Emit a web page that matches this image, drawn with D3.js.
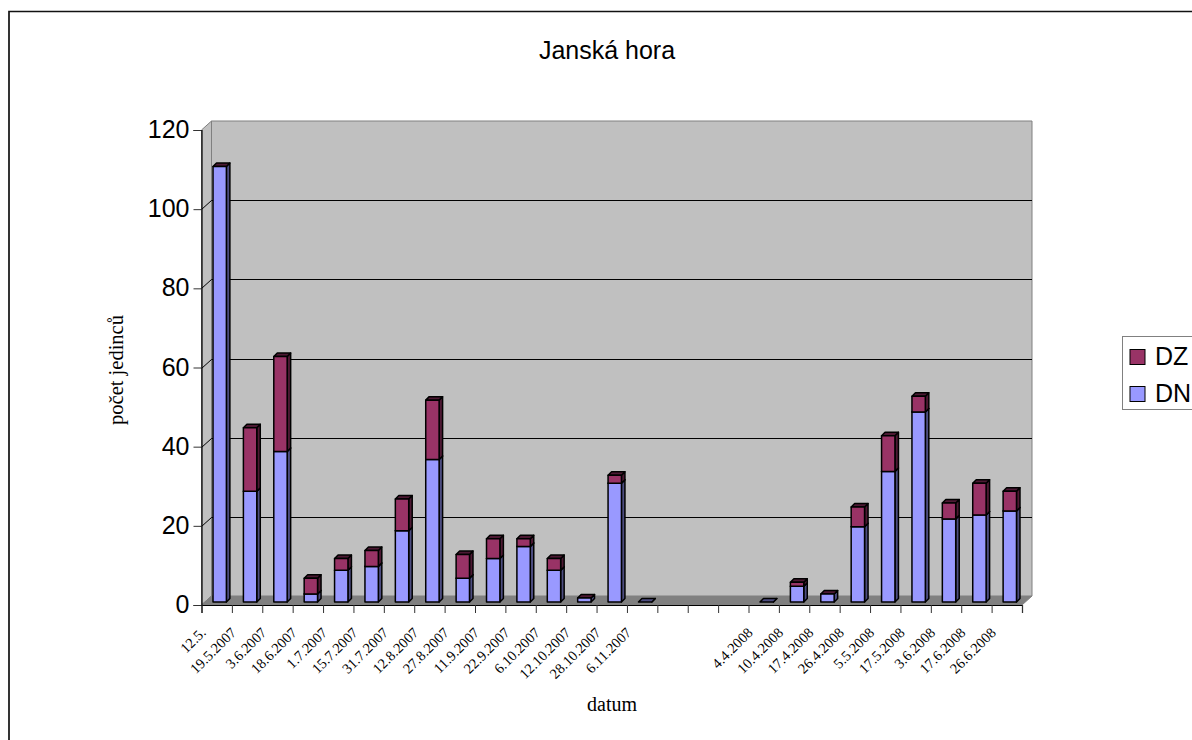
<!DOCTYPE html>
<html>
<head>
<meta charset="utf-8">
<title>Janská hora</title>
<script src="https://cdn.jsdelivr.net/npm/d3@7/dist/d3.min.js"></script>
<style>
  html, body { margin: 0; padding: 0; background: #fff; }
  svg { display: block; }
  text { fill: #000; }
</style>
</head>
<body>
<svg id="chart" width="1192" height="740"></svg>
<script>
// Stacked pseudo-3D column chart of individuals counted per sampling date.
const dates = ["12.5.", "19.5.2007", "3.6.2007", "18.6.2007", "1.7.2007", "15.7.2007", "31.7.2007",
  "12.8.2007", "27.8.2007", "11.9.2007", "22.9.2007", "6.10.2007", "12.10.2007", "28.10.2007",
  "6.11.2007", "", "", "", "4.4.2008", "10.4.2008", "17.4.2008", "26.4.2008", "5.5.2008",
  "17.5.2008", "3.6.2008", "17.6.2008", "26.6.2008"];
const dn = [110, 28, 38, 2, 8, 9, 18, 36, 6, 11, 14, 8, 1, 30, 0, null, null, null, 0, 4, 2, 19, 33, 48, 21, 22, 23];
const dz = [0, 16, 24, 4, 3, 4, 8, 15, 6, 5, 2, 3, 0, 2, 0, null, null, null, 0, 1, 0, 5, 9, 4, 4, 8, 5];
const yTicks = [0, 20, 40, 60, 80, 100, 120];
const legendItems = [
  { name: "DZ", face: "#993366" },
  { name: "DN", face: "#9999FF" }
];

const svg = d3.select("#chart");
const serif = "'Liberation Serif', 'Times New Roman', serif";
const sans = "'Liberation Sans', Arial, sans-serif";

// Front plane of the plot box and the offset of its back wall.
const plotLeft = 201.5, plotRight = 1022, plotTop = 130, plotBottom = 605;
const wallDx = 10, wallDy = -9;
const barDx = 3, barDy = -3;      // bars stand slightly behind the front plane
const depthX = 3.5, depthY = -3.5; // visible depth of each column

const y = d3.scaleLinear().domain([0, 120]).range([plotBottom, plotTop]);
const x = d3.scaleBand().domain(d3.range(dates.length)).range([plotLeft, plotRight]).paddingInner(0.56).paddingOuter(0.28);
const edges = d3.scaleLinear().domain([0, dates.length]).range([plotLeft, plotRight]);

// Outer frame: it runs off the right and bottom edges of the page
svg.append("path").attr("d", "M9,740V11.5H1192")
  .attr("fill", "none").attr("stroke", "#111").attr("stroke-width", 1.7);

const poly = pts => pts.map(p => p.join(",")).join(" ");

// Left wall, floor, back wall
const walls = svg.append("g").attr("stroke", "#808080").attr("stroke-width", 1);
walls.append("polygon").attr("fill", "#C0C0C0").attr("points", poly([
  [plotLeft, plotTop], [plotLeft + wallDx, plotTop + wallDy], [plotLeft + wallDx, plotBottom + wallDy], [plotLeft, plotBottom]]));
walls.append("polygon").attr("fill", "#808080").attr("points", poly([
  [plotLeft, plotBottom], [plotLeft + wallDx, plotBottom + wallDy], [plotRight + wallDx, plotBottom + wallDy], [plotRight, plotBottom]]));
walls.append("polygon").attr("fill", "#C0C0C0").attr("points", poly([
  [plotLeft + wallDx, plotTop + wallDy], [plotRight + wallDx, plotTop + wallDy], [plotRight + wallDx, plotBottom + wallDy], [plotLeft + wallDx, plotBottom + wallDy]]));

// Gridlines run along the left wall and then across the back wall
const grid = svg.append("g").attr("fill", "none").attr("stroke", "#000").attr("stroke-width", 1);
yTicks.filter(t => t > 0 && t < 120).forEach(t => {
  const py = Math.round(y(t)) + 0.5;
  grid.append("polyline").attr("points", poly([
    [plotLeft, py], [plotLeft + wallDx, py + wallDy], [plotRight + wallDx, py + wallDy]]));
});

// Axes
const yAxis = svg.append("g").attr("transform", `translate(${plotLeft},0)`)
  .call(d3.axisLeft(y).tickValues(yTicks).tickSize(8).tickPadding(4));
yAxis.selectAll("text").attr("font-family", sans).attr("font-size", 25).attr("dy", "0.3em");

const xAxis = svg.append("g").attr("transform", `translate(0,${plotBottom})`)
  .call(d3.axisBottom(edges).tickValues(d3.range(dates.length + 1)).tickSize(8).tickFormat(""));
[yAxis, xAxis].forEach(a => {
  a.selectAll("path.domain").attr("stroke", "#000").attr("stroke-width", 1.2);
  a.selectAll(".tick line").attr("stroke", "#333");
});

// Slanted date labels, anchored at their upper right end
svg.append("g").selectAll("text").data(dates).join("text")
  .attr("text-anchor", "end")
  .attr("font-family", serif)
  .attr("font-size", 14.5)
  .attr("transform", (d, i) => `translate(${x(i) + x.bandwidth() / 2 - 10},${plotBottom + 28.5}) rotate(-45)`)
  .text(d => d);

// One box: front, side, top
function box(g, x0, x1, yBottom, yTop, face, side, topFace) {
  const outline = sel => sel.attr("stroke", "#000").attr("stroke-width", 1.5).attr("stroke-linejoin", "round");
  g.append("polygon").call(outline).attr("fill", side).attr("points", poly([
    [x1, yBottom], [x1 + depthX, yBottom + depthY], [x1 + depthX, yTop + depthY], [x1, yTop]]));
  g.append("polygon").call(outline).attr("fill", topFace).attr("points", poly([
    [x0, yTop], [x0 + depthX, yTop + depthY], [x1 + depthX, yTop + depthY], [x1, yTop]]));
  if (yBottom - yTop > 0.01) {
    g.append("rect").call(outline).attr("fill", face)
      .attr("x", x0).attr("y", yTop).attr("width", x1 - x0).attr("height", yBottom - yTop);
  }
}

// Columns: DN below, DZ stacked on top
const bars = svg.append("g");
dates.forEach((d, i) => {
  if (dn[i] === null) return;
  const g = bars.append("g");
  const x0 = x(i) + barDx, x1 = x0 + x.bandwidth();
  const total = dn[i] + dz[i];
  const dnTop = total > 0 && dz[i] === 0 ? "#4D1933" : "#4D4D80";
  box(g, x0, x1, y(0) + barDy, y(dn[i]) + barDy, "#9999FF", "#4D4D80", dnTop);
  if (dz[i] > 0) {
    box(g, x0, x1, y(dn[i]) + barDy, y(total) + barDy, "#993366", "#4D1933", "#4D1933");
  }
});

// Titles
svg.append("text").attr("x", 607).attr("y", 59).attr("text-anchor", "middle")
  .attr("font-family", sans).attr("font-size", 25).text("Janská hora");
svg.append("text").attr("x", 612).attr("y", 711).attr("text-anchor", "middle")
  .attr("font-family", serif).attr("font-size", 20).text("datum");
svg.append("text").attr("transform", "translate(123,370) rotate(-90)").attr("text-anchor", "middle")
  .attr("font-family", serif).attr("font-size", 20.5).text("počet jedinců");

// Legend
const legend = svg.append("g");
legend.append("rect").attr("x", 1122.5).attr("y", 336.5).attr("width", 72).attr("height", 73)
  .attr("fill", "#fff").attr("stroke", "#808080").attr("stroke-width", 1);
legendItems.forEach((item, i) => {
  const cy = 357 + i * 37;
  legend.append("rect").attr("x", 1130).attr("y", cy - 7.5).attr("width", 15).attr("height", 15)
    .attr("fill", item.face).attr("stroke", "#000").attr("stroke-width", 1);
  legend.append("text").attr("x", 1155).attr("y", cy + 8).attr("font-family", sans)
    .attr("font-size", 25).text(item.name);
});
</script>
</body>
</html>
